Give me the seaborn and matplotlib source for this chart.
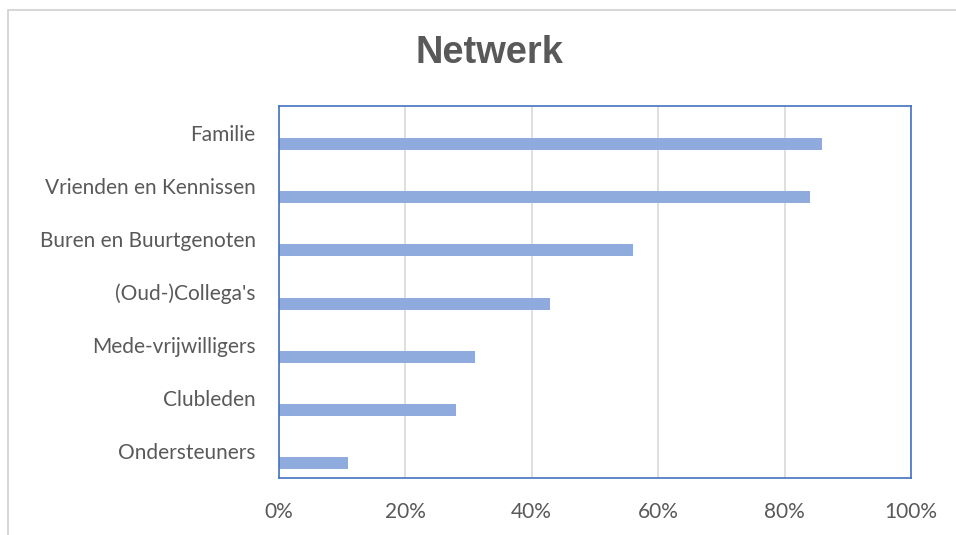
import matplotlib
matplotlib.use("Agg")
import matplotlib.pyplot as plt
import seaborn as sns
import pandas as pd
from matplotlib.patches import Rectangle
from matplotlib.ticker import PercentFormatter

categories = ["Familie", "Vrienden en Kennissen", "Buren en Buurtgenoten",
              "(Oud-)Collega's", "Mede-vrijwilligers", "Clubleden", "Ondersteuners"]
values = [0.86, 0.84, 0.56, 0.43, 0.31, 0.28, 0.11]
blank = [0, 0, 0, 0, 0, 0, 0]
xticks = [0, 0.2, 0.4, 0.6, 0.8, 1.0]

sns.set_theme(style="white")
plt.rcParams['font.family'] = ['Lato', 'DejaVu Sans']

df = pd.DataFrame({
    "cat": categories * 2,
    "val": blank + values,
    "series": ["blank"] * len(categories) + ["Netwerk"] * len(categories),
})

fig = plt.figure(figsize=(9.56, 5.35), dpi=100)
ax = fig.add_axes([278.5 / 956, 1 - 478 / 535, (911 - 278.5) / 956, (478 - 106) / 535])

sns.barplot(data=df, y="cat", x="val", hue="series", hue_order=["blank", "Netwerk"],
            palette={"blank": "#8FAADC", "Netwerk": "#8FAADC"}, orient="h",
            width=0.87, gap=0.48, linewidth=0, saturation=1, errorbar=None,
            legend=False, ax=ax)

ax.set_xlim(0, 1)
ax.set_xticks(xticks)
ax.xaxis.set_major_formatter(PercentFormatter(1.0, decimals=0))
ax.set_xlabel("")
ax.set_ylabel("")
ax.grid(axis="x", color="#D9D9D9", linewidth=1.2)
ax.set_axisbelow(True)
for s in ax.spines.values():
    s.set_color("#4472C4")
    s.set_linewidth(1.2)
ax.tick_params(axis="both", length=0, colors="#595959", labelsize=15)
ax.tick_params(axis="y", pad=16.5)
ax.tick_params(axis="x", pad=17)

fig.text(489 / 956, 1 - 53 / 535, "Netwerk", ha="center", va="center",
         fontsize=27.4, fontweight="bold", color="#595959", family=["Liberation Sans", "DejaVu Sans"])

fig.add_artist(Rectangle((8 / 956, -0.1), 1.2, 1 - 10 / 535 + 0.1, transform=fig.transFigure,
                         fill=False, edgecolor="#D0D0D0", linewidth=1.2))

fig.savefig("out.png", dpi=100)
